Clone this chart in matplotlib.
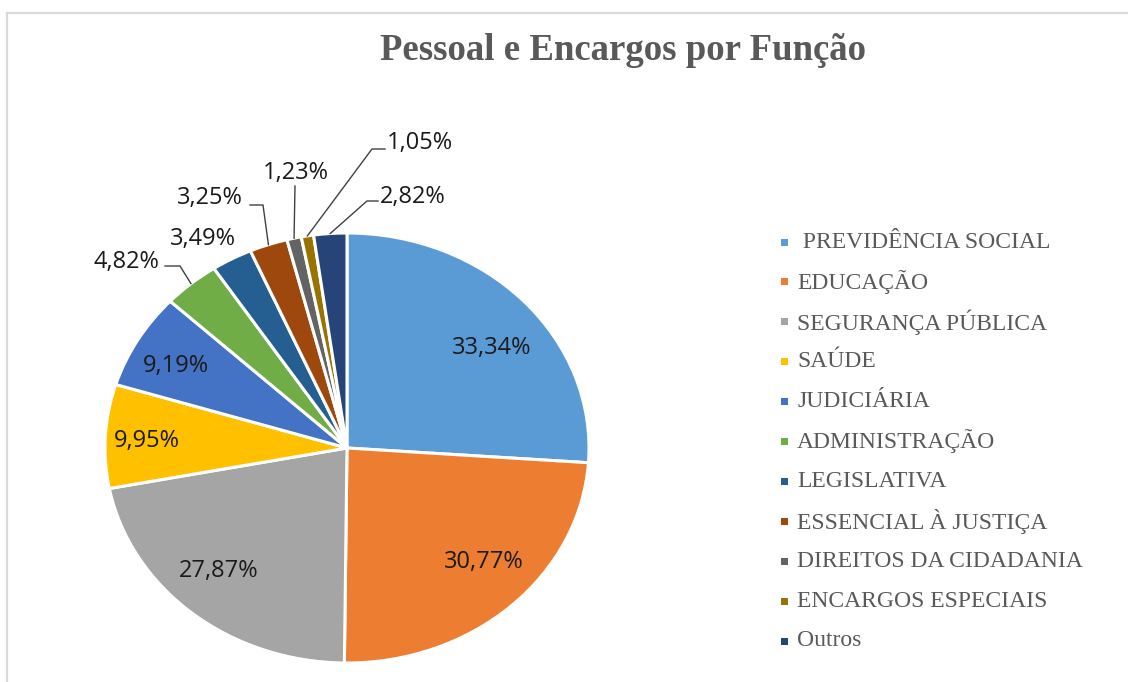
import numpy as np
import matplotlib
matplotlib.use("Agg")
import matplotlib.pyplot as plt
from matplotlib.lines import Line2D
from matplotlib.patches import Rectangle

# ---------------- data ----------------
categories = [" PREVIDÊNCIA SOCIAL", "EDUCAÇÃO", "SEGURANÇA PÚBLICA", "SAÚDE",
              "JUDICIÁRIA", "ADMINISTRAÇÃO", "LEGISLATIVA", "ESSENCIAL À JUSTIÇA",
              "DIREITOS DA CIDADANIA", "ENCARGOS ESPECIAIS", "Outros"]
values = [33.34, 30.77, 27.87, 9.95, 9.19, 4.82, 3.49, 3.25, 1.23, 1.05, 2.82]
labels = ["33,34%", "30,77%", "27,87%", "9,95%", "9,19%", "4,82%", "3,49%",
          "3,25%", "1,23%", "1,05%", "2,82%"]
colors = ["#5B9BD5", "#ED7D31", "#A5A5A5", "#FFC000", "#4472C4", "#70AD47",
          "#255E91", "#9E480E", "#636363", "#997300", "#264478"]
title = "Pessoal e Encargos por Função"

W, H = 1128, 682
fig = plt.figure(figsize=(W / 100, H / 100), dpi=100)
fig.patch.set_facecolor("white")

# pie geometry (pixels, top-origin)
cx, cy, rx, ry = 347, 448, 242, 215
ax = fig.add_axes([(cx - rx) / W, (H - cy - ry) / H, 2 * rx / W, 2 * ry / H])
wedges, _ = ax.pie(values, colors=colors, startangle=90, counterclock=False,
                   radius=1.0, wedgeprops=dict(edgecolor="white", linewidth=2.2))
ax.set_xlim(-1, 1)
ax.set_ylim(-1, 1)
ax.set_aspect("auto")
ax.axis("off")

def px2fig(px, py):
    return px / W, (H - py) / H

label_font = dict(family="Open Sans", size=17, color="#1a1a1a")
leader_color = "#404040"

# text positions (layout, pixels top-origin) and optional leader elbows
text_pos = [(492, 348), (484, 562), (219, 571), (147, 441), (176, 366),
            (126, 262), (203, 239), (210, 198), (296, 173), (420, 143), (413, 197)]
# leader: (text-side start x, y, elbow x) ; None for no leader
leaders = [None, None, None, None, None,
           (165, 266, 180), None, (250, 205, 263), (295, 186, 295),
           (385, 149, 372), (378, 201, 367)]

for i, w in enumerate(wedges):
    tx, ty = text_pos[i]
    fx, fy = px2fig(tx, ty)
    fig.text(fx, fy, labels[i], ha="center", va="center", **label_font)
    ld = leaders[i]
    if ld is not None:
        mid = np.deg2rad((w.theta1 + w.theta2) / 2)
        ex = cx + rx * 1.0 * np.cos(mid)
        ey = cy - ry * 1.0 * np.sin(mid)
        sx, sy, elx = ld
        xs = [sx, elx, ex]
        ys = [sy, sy, ey]
        fxs = [x / W for x in xs]
        fys = [(H - y) / H for y in ys]
        fig.add_artist(Line2D(fxs, fys, color=leader_color, lw=1.0))

# title
fig.text(*px2fig(623, 50), title, ha="center", va="center",
         family="Liberation Serif", weight="bold", size=26.5, color="#595959")

# legend (manual)
leg_y0, leg_dy = 242, 39.9
for i, (c, name) in enumerate(zip(colors, categories)):
    yy = leg_y0 + i * leg_dy
    sq = 7
    fig.add_artist(Rectangle(((784 - sq / 2) / W, (H - yy - sq / 2) / H), sq / W, sq / H,
                             facecolor=c, edgecolor="none", transform=fig.transFigure))
    fig.text(797 / W, (H - yy) / H, name, ha="left", va="center",
             family="Liberation Serif", size=17, color="#595959")

# border
bc = "#D9D9D9"
fig.add_artist(Line2D([7 / W, 1.0], [(H - 12.5) / H] * 2, color=bc, lw=1.6))
fig.add_artist(Line2D([7 / W] * 2, [0, (H - 12.5) / H], color=bc, lw=1.6))

fig.savefig("out.png", dpi=100, facecolor="white")
